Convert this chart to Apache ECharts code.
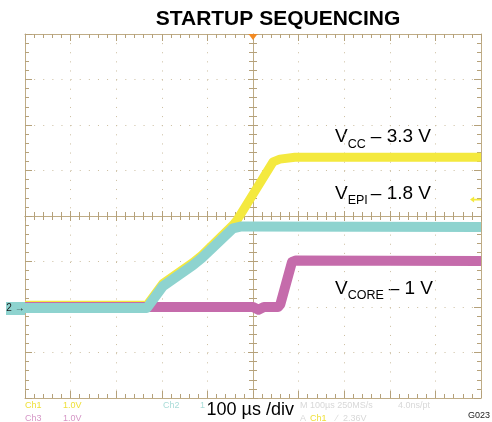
<!DOCTYPE html>
<html><head><meta charset="utf-8">
<script src="https://cdn.jsdelivr.net/npm/echarts@6/dist/echarts.min.js"></script>
<style>html,body{margin:0;padding:0;background:#fff}#c{width:492px;height:422px}</style>
</head><body><div id="c"></div>
<script>
// ---- data (time in µs, 100 µs/div; volts, 1 V/div, ground 2 div above bottom) ----
const vccTime  = [0, 267.5, 302.6, 368.4, 388, 456, 465, 544, 559, 592, 1000];
const vccVolts = [0.04, 0.04, 0.52, 0.98, 1.14, 1.80, 1.91, 3.19, 3.25, 3.29, 3.29];
const epiTime  = [0, 267.5, 302.6, 368.4, 388, 456, 475, 1000];
const epiVolts = [-0.02, -0.02, 0.46, 0.92, 1.08, 1.73, 1.77, 1.76];
const coreTime  = [0, 267.5, 500, 512, 524, 555, 560, 585.5, 594, 1000];
const coreVolts = [0, 0, 0, -0.06, 0, 0, 0.06, 0.99, 1.02, 1.01];
const timeDivs = [0, 100, 200, 300, 400, 500, 600, 700, 800, 900, 1000];
const voltDivs = [-2, -1, 0, 1, 2, 3, 4, 5, 6];
const triggerTimeUs = 500;
const triggerLevelV = 2.36;

const zip = (a, b) => a.map((t, i) => [t, b[i]]);
const FONT = '"Liberation Sans", Arial, sans-serif';
const frameC = '#bfac86', tickC = '#b5a17a', dotC = '#cbbd9f';
const YEL = '#f4e93e', TEAL = '#8ed3cf', MAG = '#c56bab';

const gridRect = {left: 25, top: 34, width: 456, height: 364};
const baseAxis = (extra) => Object.assign({
  type: 'value', axisLabel: {show: false}, splitLine: {show: false},
  axisLine: {show: true, onZero: false, lineStyle: {color: frameC, width: 1}},
  axisTick: {show: true, inside: true, length: 7, lineStyle: {color: tickC}},
  minorTick: {show: true, splitNumber: 5, length: 4, lineStyle: {color: tickC}},
  minorSplitLine: {show: false}
}, extra);
const centerAxis = (extra) => baseAxis(Object.assign({
  axisLine: {show: true, onZero: true, lineStyle: {color: frameC, width: 1}},
  axisTick: {show: true, inside: true, length: 5, lineStyle: {color: tickC}},
  minorTick: {show: true, splitNumber: 5, length: 4, lineStyle: {color: tickC}}
}, extra));

const xMin = timeDivs[0], xMax = timeDivs[timeDivs.length - 1];
const yMin = voltDivs[0], yMax = voltDivs[voltDivs.length - 1];
const dotLine = {show: true, lineStyle: {color: dotC, width: 1, type: [1, 8.12]}};

const chart = echarts.init(document.getElementById('c'), null, {renderer: 'canvas'});
const small = (text, x, y, color) => ({type: 'text', x, y, style: {text, fill: color, font: '9px ' + FONT, verticalAlign: 'middle'}, silent: true});
const lab = (main, sub, rest, y, xr) => [
  {type: 'text', x: 335, y, style: {text: main, fill: '#000', font: '19px ' + FONT, verticalAlign: 'middle'}},
  {type: 'text', x: 347.7, y: y + 7.5, style: {text: sub, fill: '#000', font: '12.5px ' + FONT, verticalAlign: 'middle'}},
  {type: 'text', x: xr, y, style: {text: rest, fill: '#000', font: '19px ' + FONT, verticalAlign: 'middle', align: 'right'}}
];

chart.setOption({
  animation: false,
  backgroundColor: '#fff',
  grid: [Object.assign({}, gridRect), Object.assign({}, gridRect)],
  xAxis: [
    baseAxis({gridIndex: 0, min: xMin, max: xMax, interval: 100, position: 'bottom', splitLine: dotLine}),
    baseAxis({gridIndex: 0, min: xMin, max: xMax, interval: 100, position: 'top'}),
    centerAxis({gridIndex: 1, min: -5, max: 5, interval: 1, position: 'bottom'}),
    centerAxis({gridIndex: 1, min: -5, max: 5, interval: 1, position: 'top'})
  ],
  yAxis: [
    baseAxis({gridIndex: 0, min: yMin, max: yMax, interval: 1, position: 'left', splitLine: dotLine}),
    baseAxis({gridIndex: 0, min: yMin, max: yMax, interval: 1, position: 'right'}),
    centerAxis({gridIndex: 1, min: -4, max: 4, interval: 1, position: 'left'}),
    centerAxis({gridIndex: 1, min: -4, max: 4, interval: 1, position: 'right'})
  ],
  series: [
    {name: 'VCC', type: 'line', xAxisIndex: 0, yAxisIndex: 0, data: zip(vccTime, vccVolts), showSymbol: false, symbol: 'none',
     lineStyle: {color: YEL, width: 9, join: 'round'},
     markPoint: {silent: true, label: {show: false}, data: [
       {coord: [triggerTimeUs, yMax], symbol: 'triangle', symbolRotate: 180, symbolSize: [9, 6], symbolOffset: [0, 3], itemStyle: {color: '#f28a22'}},
       {coord: [xMax, triggerLevelV], symbol: 'path://M0,5 L6,0 L6,3.5 L16,3.5 L16,6.5 L6,6.5 L6,10 Z', symbolSize: [11, 6], symbolOffset: [-5.5, 0], itemStyle: {color: YEL}}
     ]}},
    {name: 'VCORE', type: 'line', xAxisIndex: 0, yAxisIndex: 0, data: zip(coreTime, coreVolts), showSymbol: false, symbol: 'none',
     lineStyle: {color: MAG, width: 10, join: 'round'}},
    {name: 'VEPI', type: 'line', xAxisIndex: 0, yAxisIndex: 0, data: zip(epiTime, epiVolts), showSymbol: false, symbol: 'none',
     lineStyle: {color: TEAL, width: 10, join: 'round'},
     markPoint: {silent: true, data: [{coord: [xMin, 0], symbol: 'rect', symbolSize: [19, 13], symbolOffset: [-9.5, 1.5], itemStyle: {color: TEAL},
       label: {show: true, formatter: '2 \u2192', color: '#1a1a1a', fontSize: 10, fontFamily: FONT}}]}}
  ],
  graphic: [
    {type: 'text', x: 278, y: 19.5, style: {text: 'STARTUP SEQUENCING', fill: '#000', font: 'bold 21px ' + FONT, align: 'center', verticalAlign: 'middle'}},
    ...lab('V', 'CC', '\u2013 3.3 V', 136.7, 431),
    ...lab('V', 'EPI', '\u2013 1.8 V', 193.3, 431),
    ...lab('V', 'CORE', '\u2013 1 V', 288.3, 433),
    small('Ch1', 25, 405.5, '#efe03a'), small('1.0V', 63, 405.5, '#efe03a'),
    small('Ch3', 25, 419, '#d596c6'), small('1.0V', 63, 419, '#d596c6'),
    small('Ch2', 163, 405.5, '#a9dcd8'), small('1', 200, 405.5, '#a9dcd8'),
    small('M 100\u00b5s 250MS/s', 300, 405.5, '#d8d8d8'), small('4.0ns/pt', 398, 405.5, '#d8d8d8'),
    small('A', 300, 419, '#d8d8d8'), small('Ch1', 310, 419, '#efe03a'), small('\u2215', 336, 419, '#d8d8d8'), small('2.36V', 343, 419, '#d8d8d8'),
    {type: 'text', x: 206.5, y: 410.5, style: {text: '100 \u00b5s /div', fill: '#000', font: '18px ' + FONT, verticalAlign: 'middle'}},
    {type: 'text', x: 468, y: 415.5, style: {text: 'G023', fill: '#222', font: '9px ' + FONT, verticalAlign: 'middle'}}
  ]
});
</script></body></html>
